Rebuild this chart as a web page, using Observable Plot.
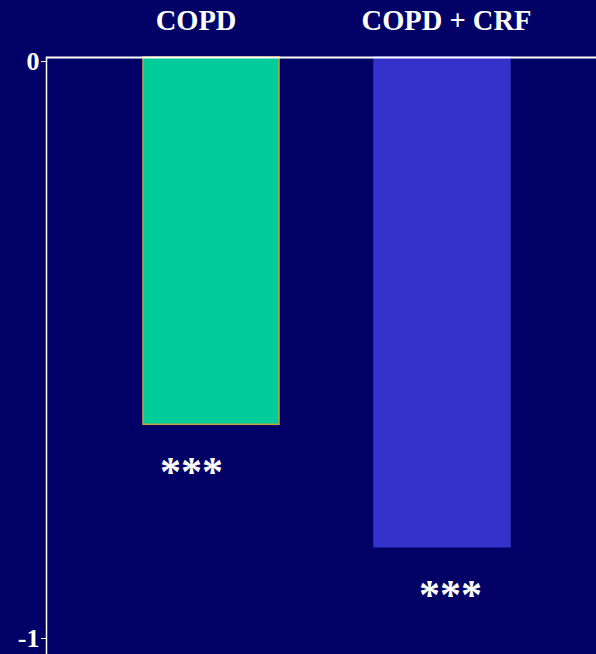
<!DOCTYPE html>
<html>
<head>
<meta charset="utf-8">
<script src="https://cdn.jsdelivr.net/npm/d3@7"></script>
<script src="https://cdn.jsdelivr.net/npm/@observablehq/plot@0.6"></script>
<style>
  html, body { margin: 0; padding: 0; background: #000066; }
  svg { display: block; }
</style>
</head>
<body>
<div id="chart"></div>
<script>
const categories = ["COPD", "COPD + CRF"];
const values = [-0.63, -0.84];
const significance = ["***", "***"];
const fills = ["#00CC99", "#3333CC"];
const strokes = ["#C8A040", "#3333CC"];
const yTicks = [0, -1];

const data = categories.map((c, i) => ({ cat: c, value: values[i], sig: significance[i], fill: fills[i], stroke: strokes[i] }));

const font = "'Liberation Serif', 'Times New Roman', serif";
const axisOpts = { anchor: "left", label: null, tickSize: 5, tickPadding: 2, tickFormat: d => d === 0 ? "0" : "-1", fontSize: 26, fontWeight: "bold", fill: "white", stroke: "white", textStroke: "none" };

const chart = Plot.plot({
  width: 596,
  height: 654,
  marginLeft: 46,
  marginRight: 0,
  marginTop: 57,
  marginBottom: 0,
  style: { background: "#000066", color: "white", fontFamily: font },
  x: { domain: categories, range: [46, 596], paddingInner: 0.4125, paddingOuter: 0.394, align: 0.527, axis: null },
  y: { domain: [-1, 0], range: [640, 57], axis: null },
  marks: [
    Plot.barY(data, { x: "cat", y: "value", fill: "fill", stroke: "stroke", strokeWidth: 1.5 }),
    Plot.frame({ anchor: "left", stroke: "white", strokeWidth: 1.5 }),
    Plot.ruleY([0], { stroke: "white", strokeWidth: 2 }),
    Plot.axisY([yTicks[0]], { ...axisOpts, dy: 4 }),
    Plot.axisY([yTicks[1]], { ...axisOpts, dy: -2 }),
    Plot.text(data.filter((d, i) => i === 0), { x: "cat", frameAnchor: "top", dy: -48, dx: -15.5, text: "cat", fontSize: 28.5, fontWeight: "bold", fill: "white", fontFamily: font }),
    Plot.text(data.filter((d, i) => i === 1), { x: "cat", frameAnchor: "top", dy: -48, dx: 4, text: "cat", fontSize: 28.5, fontWeight: "bold", fill: "white", fontFamily: font }),
    Plot.text(data.filter((d, i) => i === 0), { x: "cat", y: "value", dy: 48, dx: -20, text: "sig", fontSize: 42, fontWeight: "bold", fill: "white", fontFamily: font }),
    Plot.text(data.filter((d, i) => i === 1), { x: "cat", y: "value", dy: 48, dx: 8, text: "sig", fontSize: 42, fontWeight: "bold", fill: "white", fontFamily: font })
  ]
});
document.getElementById("chart").appendChild(chart);
</script>
</body>
</html>
